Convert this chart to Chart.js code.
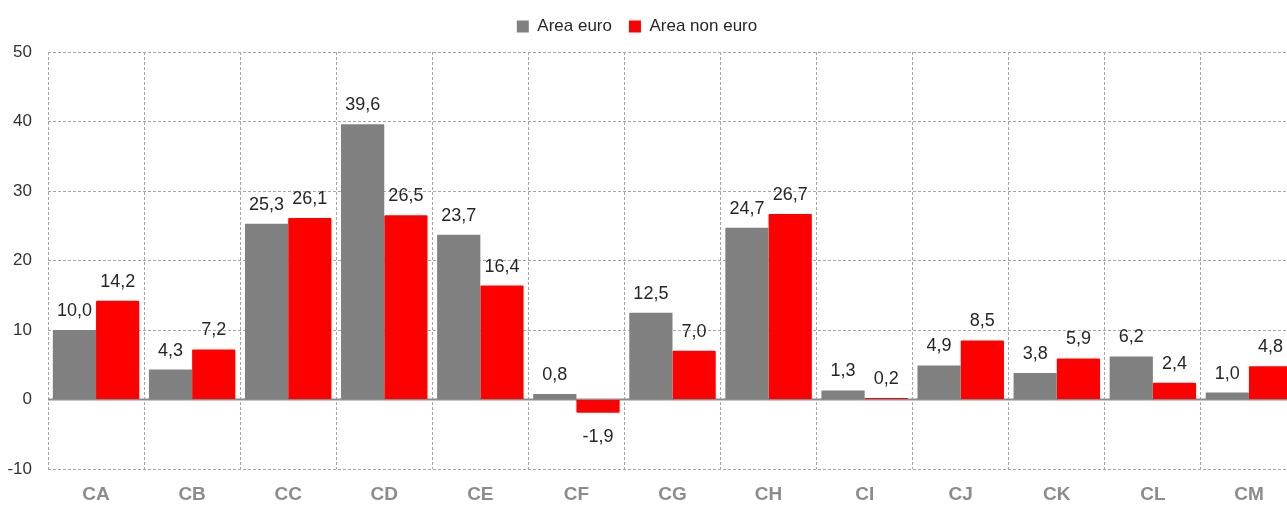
<!DOCTYPE html>
<html>
<head>
<meta charset="utf-8">
<script src="https://cdn.jsdelivr.net/npm/chart.js@4/dist/chart.umd.min.js"></script>
<style>
  html, body { margin: 0; padding: 0; background: #fff; overflow: hidden; }
  #wrap { position: relative; width: 1320px; height: 505px; margin-left: -23px; }
</style>
</head>
<body>
<div id="wrap"><canvas id="myChart"></canvas></div>
<script>
// Chart data
const categories = ['CA', 'CB', 'CC', 'CD', 'CE', 'CF', 'CG', 'CH', 'CI', 'CJ', 'CK', 'CL', 'CM'];
const areaEuro = [10.0, 4.3, 25.3, 39.6, 23.7, 0.8, 12.5, 24.7, 1.3, 4.9, 3.8, 6.2, 1.0];
const areaNonEuro = [14.2, 7.2, 26.1, 26.5, 16.4, -1.9, 7.0, 26.7, 0.2, 8.5, 5.9, 2.4, 4.8];
const seriesNames = ['Area euro', 'Area non euro'];
const yMin = -10, yMax = 50, yStep = 10;

const FONT = "'Liberation Sans', Arial, sans-serif";

// Extra room under the legend, before the plot starts
const legendGap = {
    id: 'legendGap',
    beforeLayout(chart) {
        const legend = chart.legend;
        if (legend && !legend._gapPatched) {
            const origFit = legend.fit;
            legend.fit = function () {
                origFit.call(this);
                this.height += 7;
            };
            legend._gapPatched = true;
        }
    }
};

// Solid line at zero, under the bars
const zeroLine = {
    id: 'zeroLine',
    beforeDatasetsDraw(chart) {
        const ctx = chart.ctx;
        const y = chart.scales.y.getPixelForValue(0);
        const area = chart.chartArea;
        ctx.save();
        ctx.strokeStyle = '#8c8c8c';
        ctx.lineWidth = 2;
        ctx.beginPath();
        ctx.moveTo(area.left, y);
        ctx.lineTo(area.right, y);
        ctx.stroke();
        ctx.restore();
    }
};

// Value labels above (or below) every bar
const valueLabels = {
    id: 'valueLabels',
    afterDatasetsDraw(chart) {
        const ctx = chart.ctx;
        ctx.save();
        ctx.font = '18px ' + FONT;
        ctx.fillStyle = '#262626';
        ctx.textAlign = 'center';
        chart.data.datasets.forEach((ds, i) => {
            chart.getDatasetMeta(i).data.forEach((bar, j) => {
                const v = ds.data[j];
                const txt = v.toFixed(1).replace('.', ',');
                if (v >= 0) {
                    ctx.textBaseline = 'alphabetic';
                    ctx.fillText(txt, bar.x, bar.y - 14);
                } else {
                    ctx.textBaseline = 'top';
                    ctx.fillText(txt, bar.x, bar.y + 15);
                }
            });
        });
        ctx.restore();
    }
};

const ctx = document.getElementById('myChart').getContext('2d');
const chart = new Chart(ctx, {
    type: 'bar',
    data: {
        labels: categories,
        datasets: [
            {
                label: seriesNames[0],
                data: areaEuro,
                backgroundColor: '#808080',
                categoryPercentage: 0.9,
                barPercentage: 1.0
            },
            {
                label: seriesNames[1],
                data: areaNonEuro,
                backgroundColor: '#ff0000',
                borderRadius: 1,
                categoryPercentage: 0.9,
                barPercentage: 1.0
            }
        ]
    },
    options: {
        responsive: true,
        maintainAspectRatio: false,
        animation: false,
        layout: { padding: { top: 1, right: 0, left: 0, bottom: 0 } },
        plugins: {
            legend: {
                position: 'top',
                labels: {
                    boxWidth: 12,
                    boxHeight: 12,
                    padding: 17,
                    color: '#262626',
                    font: { family: FONT, size: 17 }
                }
            },
            tooltip: { enabled: false }
        },
        scales: {
            x: {
                grid: {
                    color: '#a6a6a6',
                    lineWidth: 1,
                    drawTicks: false
                },
                border: { display: false, dash: [3, 2] },
                ticks: {
                    color: '#8c8c8c',
                    padding: 14,
                    font: { family: FONT, size: 19, weight: 'bold' }
                },
                afterFit(scale) { scale.height = 36; }
            },
            y: {
                min: yMin,
                max: yMax,
                grid: {
                    color: '#a6a6a6',
                    lineWidth: 1,
                    drawTicks: false
                },
                border: { display: false, dash: [3, 2] },
                ticks: {
                    stepSize: yStep,
                    color: '#333333',
                    padding: 16,
                    font: { family: FONT, size: 17 }
                },
                afterFit(scale) { scale.width = 71; }
            }
        }
    },
    plugins: [legendGap, zeroLine, valueLabels]
});
</script>
</body>
</html>
